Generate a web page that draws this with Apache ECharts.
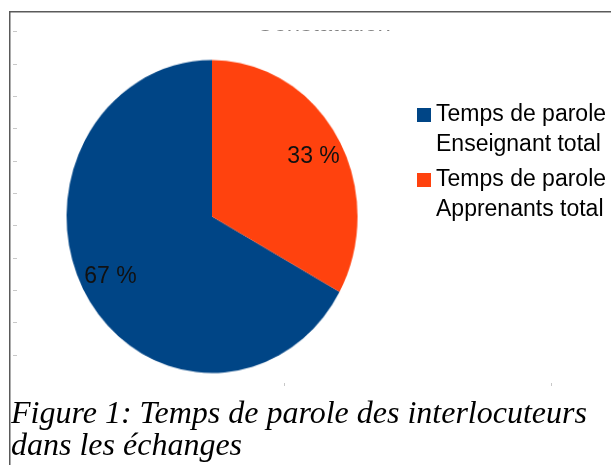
<!DOCTYPE html>
<html>
<head>
<meta charset="utf-8">
<script src="https://cdn.jsdelivr.net/npm/echarts@6/dist/echarts.min.js"></script>
<style>
  html, body { margin: 0; padding: 0; background: #fff; }
  .layer { position: absolute; left: 0; top: 0; width: 611px; height: 465px; }
  #pie { z-index: 0; transform-origin: 212px 216.5px; transform: scale(0.97, 1.0433); }
  #chart { z-index: 1; }
</style>
</head>
<body>
<div id="pie" class="layer"></div>
<div id="chart" class="layer"></div>
<script>
// ---- data ----
const categories = ['Temps de parole\nEnseignant total', 'Temps de parole\nApprenants total'];
const values = [67, 33];
const colors = ['#004586', '#ff420e'];
const chartTitle = 'Constatation';
const caption = 'Figure 1: Temps de parole des interlocuteurs\ndans les échanges';
const yTickCount = 10;

const total = values.reduce((a, b) => a + b, 0);
// blue slice ends at 12 o'clock going clockwise
const startAngle = 90 - 360 * values[1] / total;
const pieCenter = [212, 216.5];

const pieData = categories.map((c, i) => ({ name: c, value: values[i], itemStyle: { color: colors[i] } }));
const labelData = categories.map((c, i) => ({ name: c, value: values[i] }));

// pie layer (stretched to the slightly elliptical shape of the original)
const pieChart = echarts.init(document.getElementById('pie'), null, { renderer: 'canvas' });
pieChart.setOption({
  animation: false,
  series: [{
    type: 'pie',
    center: pieCenter,
    radius: [0, 150],
    startAngle: startAngle,
    clockwise: true,
    silent: true,
    label: { show: false },
    labelLine: { show: false },
    data: pieData
  }]
});

const chart = echarts.init(document.getElementById('chart'), null, { renderer: 'canvas' });
chart.setOption({
  animation: false,
  backgroundColor: 'transparent',
  title: {
    text: caption,
    left: 11,
    top: 399,
    padding: 0,
    textStyle: {
      fontFamily: 'Liberation Serif',
      fontStyle: 'italic',
      fontWeight: 'normal',
      fontSize: 32,
      lineHeight: 32,
      color: '#000'
    }
  },
  legend: {
    orient: 'vertical',
    left: 417,
    top: 100,
    padding: 0,
    itemWidth: 14,
    itemHeight: 60,
    itemGap: 5,
    icon: 'path://M0,8h14v14h-14zM0,0h0.001M0,60h0.001',
    data: categories.map((c, i) => ({ name: c, itemStyle: { color: colors[i], opacity: 1 } })),
    selectedMode: false,
    textStyle: {
      fontFamily: 'Liberation Sans',
      fontSize: 23,
      lineHeight: 30,
      color: '#000'
    }
  },
  grid: [
    { left: 17, top: 31.7, height: 323.3, width: 100 },
    { left: 16, width: 535.5, top: 300, bottom: 82 }
  ],
  xAxis: [
    { gridIndex: 0, type: 'value', show: false, min: 0, max: 1 },
    {
      gridIndex: 1, type: 'value', min: 0, max: 2, interval: 1,
      axisLine: { show: false },
      axisLabel: { show: false },
      splitLine: { show: false },
      axisTick: { show: true, length: 3, lineStyle: { color: '#c8c8c8', width: 1 }, customValues: [1, 2] }
    }
  ],
  yAxis: [
    {
      gridIndex: 0, type: 'value', min: 0, max: yTickCount, interval: 1,
      axisLine: { show: false },
      axisLabel: { show: false },
      splitLine: { show: false },
      axisTick: { show: true, length: 4, lineStyle: { color: '#c8c8c8', width: 1 } }
    },
    { gridIndex: 1, type: 'value', show: false, min: 0, max: 1 }
  ],
  series: [
    {
      type: 'pie',
      center: pieCenter,
      radius: [80, 150],
      startAngle: startAngle,
      clockwise: true,
      silent: true,
      itemStyle: { color: 'rgba(0,0,0,0)' },
      label: {
        show: true,
        position: 'inside',
        fontFamily: 'Liberation Sans',
        fontSize: 23,
        color: '#111',
        formatter: p => Math.round(p.percent) + ' %'
      },
      labelLine: { show: false },
      data: labelData
    }
  ],
  graphic: [
    {
      type: 'text',
      x: 323.5,
      y: 36.5,
      style: {
        text: chartTitle,
        align: 'center',
        verticalAlign: 'bottom',
        fontFamily: 'Liberation Sans',
        fontSize: 24,
        fill: '#000'
      },
      z: 10
    },
    {
      type: 'rect',
      shape: { x: 0, y: 0, width: 611, height: 30.5 },
      style: { fill: '#fff' },
      z: 20
    },
    {
      type: 'polyline',
      shape: { points: [[9.75, 465], [9.75, 11.75], [611, 11.75]] },
      style: { stroke: '#5a5a5a', lineWidth: 1.5, fill: null },
      z: 30
    }
  ]
});
</script>
</body>
</html>
